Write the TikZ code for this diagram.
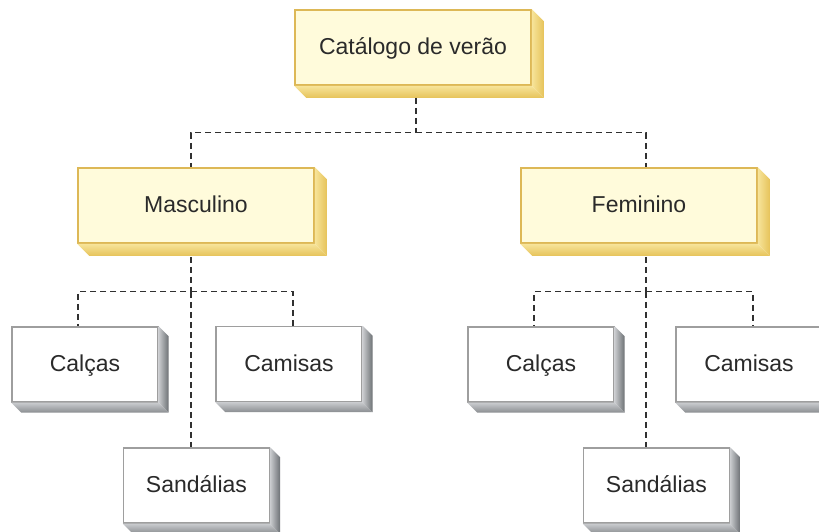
\documentclass[tikz,border=0pt]{standalone}
\usepackage{fontspec}
\setmainfont{Liberation Sans}
\definecolor{facey}{HTML}{FFFBDB}
\definecolor{linecol}{HTML}{DDB856}
\definecolor{sidelight}{HTML}{F7E49A}
\definecolor{sidedark}{HTML}{E6C35A}
\definecolor{greylight}{HTML}{C9CBCE}
\definecolor{greydark}{HTML}{6C7074}
\definecolor{textcol}{HTML}{2A2A2A}
\definecolor{dashcol}{HTML}{303030}
\tikzset{
  yellowbox/.style={draw=linecol, line width=1.6pt, fill=facey, minimum width=236, minimum height=75, inner sep=0pt, text height=18, text depth=4, text=textcol},
  whitebox/.style={draw=black!38, line width=1.4pt, fill=white, minimum width=146, minimum height=75, inner sep=0pt, text height=18, text depth=4, text=textcol},
  link/.style={dashcol, line width=1.1pt, dash pattern=on 6pt off 4pt}
}
\begin{document}
\begin{tikzpicture}[x=1pt, y=1pt, font=\fontsize{23}{27}\selectfont]
\useasboundingbox (0,0) rectangle (819,-531);
% Draw the three category boxes
\node[yellowbox] (cat) at (413,-47.5) {Catálogo de verão};
\node[yellowbox] (masc) at (196,-205.5) {Masculino};
\node[yellowbox] (fem) at (639,-205.5) {Feminino};
% Draw the product boxes
\node[whitebox] (calL) at (85,-364.5) {Calças};
\node[whitebox] (camL) at (289,-364) {Camisas};
\node[whitebox] (sanL) at (196.5,-485.5) {Sandálias};
\node[whitebox] (calR) at (541,-364.5) {Calças};
\node[whitebox] (camR) at (749,-364.5) {Camisas};
\node[whitebox] (sanR) at (656.5,-485.5) {Sandálias};
% Draw 3D sides of the yellow boxes
\foreach \n in {cat,masc,fem} {
  \shade[left color=sidelight, right color=sidedark] (\n.north east) -- ++(12,-12) -- ([shift={(12,-12)}]\n.south east) -- (\n.south east) -- cycle;
  \shade[top color=sidelight, bottom color=sidedark] (\n.south west) -- (\n.south east) -- ++(12,-12) -- ([shift={(12,-12)}]\n.south west) -- cycle;
}
% Draw 3D sides of the white boxes
\foreach \n in {calL,camL,sanL,calR,camR,sanR} {
  \shade[left color=greylight, right color=greydark] (\n.north east) -- ++(10,-10) -- ([shift={(10,-10)}]\n.south east) -- (\n.south east) -- cycle;
  \shade[top color=greylight, bottom color=greydark!80] (\n.south west) -- (\n.south east) -- ++(10,-10) -- ([shift={(10,-10)}]\n.south west) -- cycle;
}
% Connectors from the catalogue to the two groups
\draw[link] ([shift={(3,-12)}]cat.south) -- ++(0,-35) coordinate (top) -| ([xshift=-5]masc.north);
\draw[link] (top) -| ([xshift=7]fem.north);
% Connectors of the men's group
\draw[link] ([shift={(-5,-13)}]masc.south) -- ++(0,-35) coordinate (midL) -| ([xshift=-7]calL.north);
\draw[link] (midL) -| ([xshift=4]camL.north);
\draw[link] (midL) -- ([xshift=-5.5]sanL.north);
% Connectors of the women's group
\draw[link] ([shift={(7,-13)}]fem.south) -- ++(0,-35) coordinate (midR) -| ([xshift=-7]calR.north);
\draw[link] (midR) -| ([xshift=4]camR.north);
\draw[link] (midR) -- ([xshift=-10.5]sanR.north);
\end{tikzpicture}
\end{document}
